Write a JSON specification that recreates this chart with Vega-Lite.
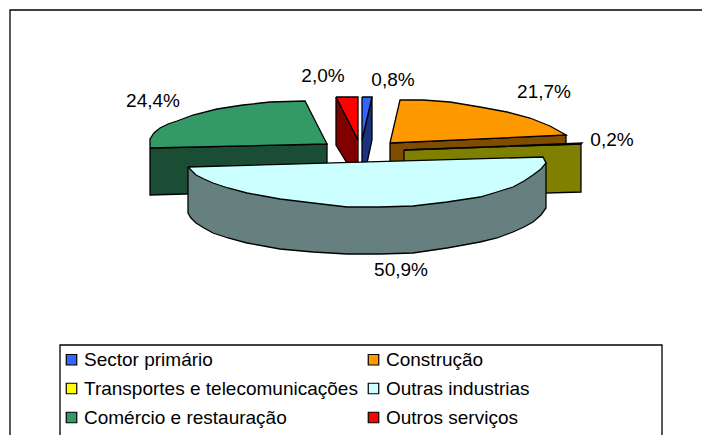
{"$schema":"https://vega.github.io/schema/vega-lite/v6.json","width":702,"height":435,"padding":0,"autosize":{"type":"none"},"background":"white","config":{"view":{"stroke":null}},
"datasets":{
"faces":[
{"piece":"Comércio side","i":0,"x":150,"y":148},{"piece":"Comércio side","i":1,"x":327,"y":144},{"piece":"Comércio side","i":2,"x":327,"y":190},{"piece":"Comércio side","i":3,"x":150,"y":195},{"piece":"Comércio side","i":4,"x":150,"y":148},
{"piece":"Comércio e restauração","i":0,"x":150,"y":148},{"piece":"Comércio e restauração","i":1,"x":150,"y":139},{"piece":"Comércio e restauração","i":2,"x":154,"y":133},{"piece":"Comércio e restauração","i":3,"x":160,"y":128},{"piece":"Comércio e restauração","i":4,"x":168,"y":124},{"piece":"Comércio e restauração","i":5,"x":177,"y":121},{"piece":"Comércio e restauração","i":6,"x":193,"y":115},{"piece":"Comércio e restauração","i":7,"x":217,"y":109},{"piece":"Comércio e restauração","i":8,"x":243,"y":105},{"piece":"Comércio e restauração","i":9,"x":270,"y":102},{"piece":"Comércio e restauração","i":10,"x":305,"y":101},{"piece":"Comércio e restauração","i":11,"x":327,"y":144},{"piece":"Comércio e restauração","i":12,"x":150,"y":148},
{"piece":"Outros side","i":0,"x":336,"y":97},{"piece":"Outros side","i":1,"x":358,"y":140},{"piece":"Outros side","i":2,"x":358,"y":163},{"piece":"Outros side","i":3,"x":347,"y":163},{"piece":"Outros side","i":4,"x":336,"y":145},{"piece":"Outros side","i":5,"x":336,"y":97},
{"piece":"Outros serviços","i":0,"x":336,"y":97},{"piece":"Outros serviços","i":1,"x":358,"y":97},{"piece":"Outros serviços","i":2,"x":358,"y":140},{"piece":"Outros serviços","i":3,"x":336,"y":97},
{"piece":"Sector side","i":0,"x":372,"y":97},{"piece":"Sector side","i":1,"x":372,"y":140},{"piece":"Sector side","i":2,"x":367,"y":163},{"piece":"Sector side","i":3,"x":362,"y":163},{"piece":"Sector side","i":4,"x":362,"y":140},{"piece":"Sector side","i":5,"x":372,"y":97},
{"piece":"Sector primário","i":0,"x":362,"y":97},{"piece":"Sector primário","i":1,"x":372,"y":97},{"piece":"Sector primário","i":2,"x":362,"y":140},{"piece":"Sector primário","i":3,"x":362,"y":97},
{"piece":"Construção side","i":0,"x":390,"y":143},{"piece":"Construção side","i":1,"x":566,"y":135},{"piece":"Construção side","i":2,"x":566,"y":175},{"piece":"Construção side","i":3,"x":390,"y":175},{"piece":"Construção side","i":4,"x":390,"y":143},
{"piece":"Construção","i":0,"x":390,"y":143},{"piece":"Construção","i":1,"x":400,"y":100},{"piece":"Construção","i":2,"x":423,"y":100},{"piece":"Construção","i":3,"x":450,"y":102},{"piece":"Construção","i":4,"x":480,"y":107},{"piece":"Construção","i":5,"x":507,"y":112},{"piece":"Construção","i":6,"x":530,"y":118},{"piece":"Construção","i":7,"x":550,"y":126},{"piece":"Construção","i":8,"x":566,"y":135},{"piece":"Construção","i":9,"x":390,"y":143},
{"piece":"Transportes side","i":0,"x":404,"y":150},{"piece":"Transportes side","i":1,"x":581,"y":144},{"piece":"Transportes side","i":2,"x":581,"y":192},{"piece":"Transportes side","i":3,"x":404,"y":197},{"piece":"Transportes side","i":4,"x":404,"y":150},
{"piece":"Transportes e telecomunicações","i":0,"x":404,"y":150},{"piece":"Transportes e telecomunicações","i":1,"x":582,"y":143},{"piece":"Transportes e telecomunicações","i":2,"x":581,"y":144},{"piece":"Transportes e telecomunicações","i":3,"x":404,"y":150},
{"piece":"Outras side","i":0,"x":188,"y":167},{"piece":"Outras side","i":1,"x":546,"y":163},{"piece":"Outras side","i":2,"x":546,"y":208},{"piece":"Outras side","i":3,"x":541,"y":215},{"piece":"Outras side","i":4,"x":533,"y":222},{"piece":"Outras side","i":5,"x":524,"y":227},{"piece":"Outras side","i":6,"x":513,"y":232},{"piece":"Outras side","i":7,"x":497,"y":238},{"piece":"Outras side","i":8,"x":480,"y":242},{"piece":"Outras side","i":9,"x":447,"y":248},{"piece":"Outras side","i":10,"x":413,"y":253},{"piece":"Outras side","i":11,"x":380,"y":254},{"piece":"Outras side","i":12,"x":347,"y":254},{"piece":"Outras side","i":13,"x":313,"y":252},{"piece":"Outras side","i":14,"x":280,"y":249},{"piece":"Outras side","i":15,"x":247,"y":243},{"piece":"Outras side","i":16,"x":228,"y":238},{"piece":"Outras side","i":17,"x":213,"y":233},{"piece":"Outras side","i":18,"x":204,"y":228},{"piece":"Outras side","i":19,"x":196,"y":223},{"piece":"Outras side","i":20,"x":191,"y":218},{"piece":"Outras side","i":21,"x":188,"y":213},{"piece":"Outras side","i":22,"x":188,"y":167},
{"piece":"Outras industrias","i":0,"x":188,"y":167},{"piece":"Outras industrias","i":1,"x":543,"y":157},{"piece":"Outras industrias","i":2,"x":546,"y":163},{"piece":"Outras industrias","i":3,"x":541,"y":169},{"piece":"Outras industrias","i":4,"x":533,"y":175},{"piece":"Outras industrias","i":5,"x":524,"y":181},{"piece":"Outras industrias","i":6,"x":513,"y":187},{"piece":"Outras industrias","i":7,"x":497,"y":192},{"piece":"Outras industrias","i":8,"x":480,"y":197},{"piece":"Outras industrias","i":9,"x":447,"y":202},{"piece":"Outras industrias","i":10,"x":413,"y":206},{"piece":"Outras industrias","i":11,"x":380,"y":207},{"piece":"Outras industrias","i":12,"x":347,"y":207},{"piece":"Outras industrias","i":13,"x":313,"y":203},{"piece":"Outras industrias","i":14,"x":280,"y":199},{"piece":"Outras industrias","i":15,"x":247,"y":193},{"piece":"Outras industrias","i":16,"x":228,"y":188},{"piece":"Outras industrias","i":17,"x":213,"y":183},{"piece":"Outras industrias","i":18,"x":204,"y":179},{"piece":"Outras industrias","i":19,"x":196,"y":175},{"piece":"Outras industrias","i":20,"x":188,"y":167}
],
"shares":[
{"sector":"Sector primário","share":"0,8%","x":393,"y":80},{"sector":"Construção","share":"21,7%","x":544,"y":92},{"sector":"Transportes e telecomunicações","share":"0,2%","x":612,"y":140},{"sector":"Outras industrias","share":"50,9%","x":401,"y":270},{"sector":"Comércio e restauração","share":"24,4%","x":153,"y":101},{"sector":"Outros serviços","share":"2,0%","x":323,"y":76}
],
"boxes":[{"name":"frame","x":10,"x2":715,"y":10,"y2":445},{"name":"legend","x":60,"x2":662,"y":345,"y2":445}]
},
"layer":[
{"data":{"name":"boxes"},"mark":{"type":"rect","fill":"white","stroke":"black","strokeWidth":1.3},"encoding":{"x":{"field":"x","type":"quantitative","scale":{"domain":[0,702]},"axis":null},"x2":{"field":"x2"},"y":{"field":"y","type":"quantitative","scale":{"domain":[435,0]},"axis":null},"y2":{"field":"y2"}}},
{"data":{"name":"faces"},"mark":{"type":"line","filled":true,"stroke":"black","strokeWidth":1.3,"interpolate":"linear"},"encoding":{"x":{"field":"x","type":"quantitative","scale":{"domain":[0,702]},"axis":null},"y":{"field":"y","type":"quantitative","scale":{"domain":[435,0]},"axis":null},"order":{"field":"i"},"detail":{"field":"piece"},"fill":{"field":"piece","type":"nominal","scale":{"domain":["Sector primário","Construção","Transportes e telecomunicações","Outras industrias","Comércio e restauração","Outros serviços","Sector side","Construção side","Transportes side","Outras side","Comércio side","Outros side"],"range":["#3366FF","#FF9900","#FFFF00","#CCFFFF","#339966","#FF0000","#1A3380","#804D00","#808000","#668080","#1A4D33","#800000"]},"legend":{"values":["Sector primário","Construção","Transportes e telecomunicações","Outras industrias","Comércio e restauração","Outros serviços"],"title":null,"orient":"none","direction":"horizontal","legendX":57,"legendY":345,"columns":2,"symbolType":"square","symbolSize":110,"symbolStrokeColor":"black","symbolStrokeWidth":1.2,"symbolOpacity":1,"labelFont":"Liberation Sans","labelFontSize":19,"labelColor":"black","labelLimit":400,"labelOffset":3,"rowPadding":9,"columnPadding":6,"padding":5}}}},
{"data":{"name":"shares"},"mark":{"type":"text","font":"Liberation Sans","fontSize":19,"color":"black","align":"center","baseline":"middle"},"encoding":{"x":{"field":"x","type":"quantitative","scale":{"domain":[0,702]},"axis":null},"y":{"field":"y","type":"quantitative","scale":{"domain":[435,0]},"axis":null},"text":{"field":"share"}}}
]}
